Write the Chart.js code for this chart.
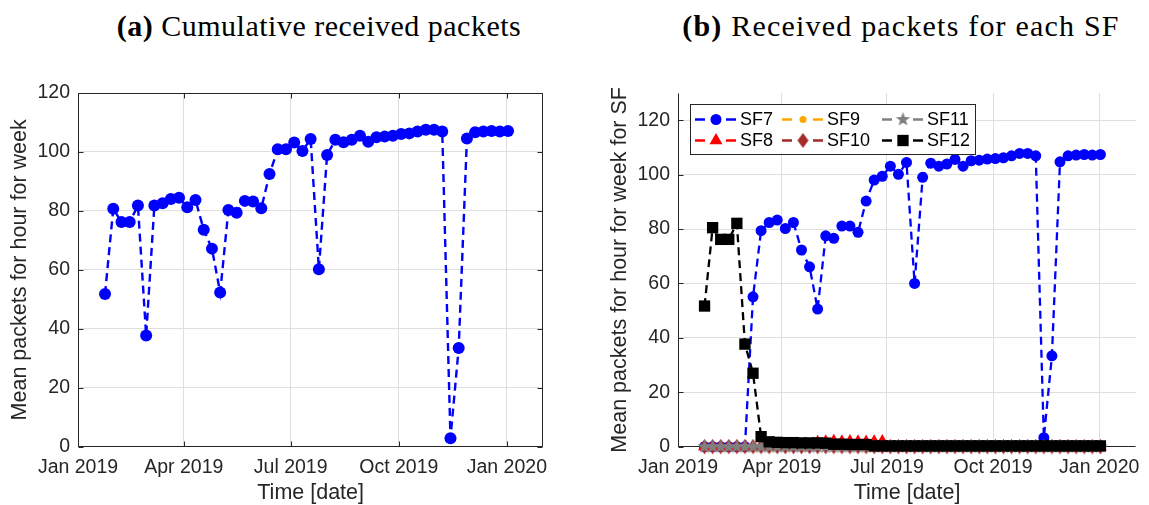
<!DOCTYPE html>
<html>
<head>
<meta charset="utf-8">
<script src="https://cdn.jsdelivr.net/npm/chart.js@4.4.1/dist/chart.umd.min.js"></script>
<style>
  body { margin: 0; background: #fff; width: 1149px; height: 505px; overflow: hidden; position: relative; }
  canvas { position: absolute; top: 0; }
  #chartA { left: 0; }
  #chartB { left: 575px; }
  .title { position: absolute; top: 9px; font-family: "Liberation Serif", "Times New Roman", serif; font-size: 30px; color: #000; white-space: nowrap; transform: translateX(-50%); }
</style>
</head>
<body>
<div class="title" style="left:319px; letter-spacing:0.5px"><b>(a)</b> Cumulative received packets</div>
<div class="title" style="left:901px; letter-spacing:1.2px"><b>(b)</b> Received packets for each SF</div>
<canvas id="chartA" width="575" height="505"></canvas>
<canvas id="chartB" width="574" height="505"></canvas>
<script>
  "use strict";

  // weekly sample dates
  const weeks = [
    "2019-01-24", "2019-01-31", "2019-02-07", "2019-02-14", "2019-02-21", "2019-02-28",
    "2019-03-07", "2019-03-14", "2019-03-21", "2019-03-28", "2019-04-04", "2019-04-11",
    "2019-04-18", "2019-04-25", "2019-05-02", "2019-05-09", "2019-05-16", "2019-05-23",
    "2019-05-30", "2019-06-06", "2019-06-13", "2019-06-20", "2019-06-27", "2019-07-04",
    "2019-07-11", "2019-07-18", "2019-07-25", "2019-08-01", "2019-08-08", "2019-08-15",
    "2019-08-22", "2019-08-29", "2019-09-05", "2019-09-12", "2019-09-19", "2019-09-26",
    "2019-10-03", "2019-10-10", "2019-10-17", "2019-10-24", "2019-10-31", "2019-11-07",
    "2019-11-14", "2019-11-21", "2019-11-28", "2019-12-05", "2019-12-12", "2019-12-19",
    "2019-12-26", "2020-01-02",
  ];

  // (a) cumulative
  const cumulative = [
    51.8, 80.7, 76.2, 76.2, 81.8, 37.7, 81.8, 82.6, 84.0, 84.5,
    81.2, 83.7, 73.6, 67.2, 52.3, 80.3, 79.4, 83.4, 83.2, 80.9,
    92.5, 100.9, 100.9, 103.2, 100.3, 104.4, 60.2, 99.0, 104.1, 103.3,
    104.1, 105.5, 103.5, 105.0, 105.2, 105.5, 106.1, 106.3, 106.9, 107.5,
    107.5, 106.9, 2.9, 33.5, 104.6, 106.7, 106.9, 107.1, 106.9, 107.1,
  ];

  // (b) per spreading factor
  const sf7 = [
    0, 0, 0, 0, 0, 0, 55.1, 79.4, 82.4, 83.3,
    80.2, 82.4, 72.3, 66.1, 50.6, 77.5, 76.6, 81.1, 81.1, 78.8,
    90.3, 98.0, 99.4, 103.1, 100.1, 104.5, 60.0, 99.0, 104.2, 103.1,
    103.9, 105.6, 103.1, 105.1, 105.3, 105.7, 105.9, 106.2, 106.9, 107.8,
    107.8, 106.9, 3.3, 33.4, 104.7, 106.9, 107.2, 107.4, 107.2, 107.4,
  ];
  const sf8 = [
    0, 0, 0, 0, 0, 0, 0, 0, 0, 0,
    0, 0, 0, 0, 1.6, 1.8, 2.0, 1.8, 1.9, 1.8,
    1.7, 1.8, 1.9, 0, 0, 0, 0, 0, 0, 0,
    0, 0, 0, 0, 0, 0, 0, 0, 0, 0,
    0, 0, 0, 0, 0, 0, 0, 0, 0, 0,
  ];
  const sf9 = [
    0, 0, 0, 0, 0, 0, 0, 0, 0, 0,
    0, 0, 0, 0, 0, 0, 0, 0, 0, 0,
    0, 0, 0, 0, 0, 0, 0, 0, 0, 0,
    0, 0, 0, 0, 0, 0, 0, 0, 0, 0,
    0, 0, 0, 0, 0, 0, 0, 0, 0, 0,
  ];
  const sf10 = [
    0, 0, 0, 0, 0, 0, 0, 0, 0, 0,
    0, 0, 0, 0, 0, 0, 0, 0, 0, 0,
    0, 0, 0, 0, 0, 0, 0, 0, 0, 0,
    0, 0, 0, 0, 0, 0, 0, 0, 0, 0,
    0, 0, 0, 0, 0, 0, 0, 0, 0, 0,
  ];
  const sf11 = [
    0, 0, 0, 0, 0, 0, 0, 0, 0, 0,
    0, 0, 0, 0, 0, 0, 0, 0, 0, 0,
    0, 0, 0, 0, 0, 0, 0, 0, 0, 0,
    0, 0, 0, 0, 0, 0, 0, 0, 0, 0,
    0, 0, 0, 0, 0, 0, 0, 0, 0, 0,
  ];
  const sf12 = [
    51.7, 80.5, 76.2, 76.2, 82.1, 37.7, 27.0, 3.7, 1.8, 1.6,
    1.5, 1.5, 1.4, 1.4, 1.4, 1.3, 0.9, 0.9, 0.8, 0.8,
    0.8, 0.3, 0.3, 0.3, 0.3, 0.3, 0.3, 0.3, 0.3, 0.3,
    0.3, 0.3, 0.3, 0.3, 0.3, 0.3, 0.3, 0.3, 0.3, 0.3,
    0.3, 0.3, 0.3, 0.3, 0.3, 0.3, 0.3, 0.3, 0.3, 0.3,
  ];

  const xTickDates = ["2019-01-01", "2019-04-01", "2019-07-01", "2019-10-01", "2020-01-01"];
  const xTickLabels = ["Jan 2019", "Apr 2019", "Jul 2019", "Oct 2019", "Jan 2020"];
  const yTicks = [0, 20, 40, 60, 80, 100, 120];

  const FONT = "'Liberation Sans', Arial, sans-serif";
  const AXIS = "#262626";

  function dayOf(s) {
    const p = s.split("-").map(Number);
    return (Date.UTC(p[0], p[1] - 1, p[2]) - Date.UTC(2019, 0, 1)) / 86400000;
  }
  const xTickDays = xTickDates.map(dayOf);

  function points(values) {
    return weeks.map((w, i) => ({ x: dayOf(w), y: values[i] }));
  }

  // marker images for shapes Chart.js lacks
  function makeStar(r, color) {
    const s = Math.ceil(2 * r + 2);
    const c = document.createElement("canvas");
    c.width = s; c.height = s;
    const g = c.getContext("2d");
    g.translate(s / 2, s / 2);
    g.beginPath();
    for (let i = 0; i < 10; i++) {
      const a = -Math.PI / 2 + (i * Math.PI) / 5;
      const rr = i % 2 ? r * 0.42 : r;
      g.lineTo(Math.cos(a) * rr, Math.sin(a) * rr);
    }
    g.closePath();
    g.fillStyle = color;
    g.fill();
    return c;
  }
  function makeDiamond(w, h, color) {
    const c = document.createElement("canvas");
    c.width = Math.ceil(w + 2); c.height = Math.ceil(h + 2);
    const g = c.getContext("2d");
    g.translate(c.width / 2, c.height / 2);
    g.beginPath();
    g.moveTo(0, -h / 2); g.lineTo(w / 2, 0); g.lineTo(0, h / 2); g.lineTo(-w / 2, 0);
    g.closePath();
    g.fillStyle = color;
    g.fill();
    return c;
  }

  const starImg = makeStar(7.5, "#808080");
  const diamondImg = makeDiamond(11, 15, "#a52a2a");

  // axis lines + inward tick marks (MATLAB look)
  const axesPlugin = {
    id: "axesBox",
    beforeDatasetsDraw(chart, args, opts) {
      const { ctx, chartArea: a, scales } = chart;
      const x = scales.x, y = scales.y;
      const L = Math.round(a.left) + 0.5, R = Math.round(a.right) - 0.5;
      const T = Math.round(a.top) + 0.5, B = Math.round(a.bottom) - 0.5;
      ctx.save();
      ctx.strokeStyle = AXIS;
      ctx.lineWidth = 1;
      ctx.beginPath();
      ctx.moveTo(L, T); ctx.lineTo(L, B); ctx.lineTo(R, B);
      if (opts.box) { ctx.lineTo(R, T); ctx.lineTo(L, T); }
      x.ticks.forEach((t) => {
        const px = Math.round(x.getPixelForValue(t.value)) + 0.5;
        ctx.moveTo(px, B); ctx.lineTo(px, B - 5);
        if (opts.box) { ctx.moveTo(px, T); ctx.lineTo(px, T + 5); }
      });
      y.ticks.forEach((t) => {
        const py = Math.round(y.getPixelForValue(t.value)) + 0.5;
        ctx.moveTo(L, py); ctx.lineTo(L + 5, py);
        if (opts.box) { ctx.moveTo(R, py); ctx.lineTo(R - 5, py); }
      });
      ctx.stroke();
      ctx.restore();
    },
  };

  function drawMarker(ctx, style, r, color, x, y) {
    ctx.fillStyle = color;
    ctx.beginPath();
    if (style === "circle") {
      ctx.arc(x, y, r, 0, Math.PI * 2);
    } else if (style === "triangle") {
      ctx.moveTo(x, y - r);
      ctx.lineTo(x + r * Math.sqrt(3) / 2, y + r / 2);
      ctx.lineTo(x - r * Math.sqrt(3) / 2, y + r / 2);
      ctx.closePath();
    } else if (style === "rect") {
      const s = r * Math.SQRT1_2;
      ctx.rect(x - s, y - s, 2 * s, 2 * s);
    } else {
      ctx.drawImage(style, x - style.width / 2, y - style.height / 2);
      return;
    }
    ctx.fill();
  }

  // legend for panel (b), 3 columns x 2 rows, column-major like MATLAB
  const legendPlugin = {
    id: "sfLegend",
    afterDatasetsDraw(chart) {
      const { ctx } = chart;
      const left = 115, top = 104, w = 285, h = 50;
      const rows = [119.5, 140.5];
      const cols = [141, 228, 328];
      ctx.save();
      ctx.fillStyle = "#fff";
      ctx.fillRect(left, top, w, h);
      ctx.strokeStyle = AXIS;
      ctx.lineWidth = 1;
      ctx.strokeRect(left + 0.5, top + 0.5, w, h);
      ctx.font = "18px " + FONT;
      ctx.textBaseline = "middle";
      chart.data.datasets.forEach((ds, i) => {
        const cx = cols[Math.floor(i / 2)];
        const cy = rows[i % 2];
        ctx.strokeStyle = ds.borderColor;
        ctx.lineWidth = 2.3;
        ctx.beginPath();
        ctx.moveTo(cx - 21, cy); ctx.lineTo(cx - 11, cy);
        ctx.moveTo(cx + 10, cy); ctx.lineTo(cx + 20, cy);
        ctx.stroke();
        drawMarker(ctx, ds.pointStyle, ds.pointRadius, ds.pointBackgroundColor, cx, cy);
        ctx.fillStyle = "#000";
        ctx.fillText(ds.label, cx + 24, cy + 1);
      });
      ctx.restore();
    },
  };

  function makeOptions(cfg) {
    return {
      responsive: false,
      animation: false,
      devicePixelRatio: 1,
      events: [],
      layout: { padding: { left: 0, right: cfg.rightPad, top: 93, bottom: 0 } },
      plugins: {
        legend: { display: false },
        tooltip: { enabled: false },
        axesBox: { box: cfg.box },
      },
      scales: {
        x: {
          type: "linear",
          min: 0,
          max: cfg.xMax,
          afterBuildTicks: (s) => { s.ticks = xTickDays.map((v) => ({ value: v })); },
          afterFit: (s) => { s.height = 505 - 446.7; },
          ticks: {
            padding: 9,
            color: AXIS,
            font: { family: FONT, size: 19.5 },
            maxRotation: 0,
            autoSkip: false,
            callback: (v) => xTickLabels[xTickDays.indexOf(v)],
          },
          grid: { color: "#dfdfdf", drawTicks: false },
          border: { display: false },
          title: {
            display: true,
            text: "Time [date]",
            color: AXIS,
            font: { family: FONT, size: 21.5, lineHeight: 1.1 },
            padding: { top: 0, bottom: 0 },
          },
        },
        y: {
          min: 0,
          max: cfg.yMax,
          afterBuildTicks: (s) => { s.ticks = yTicks.map((v) => ({ value: v })); },
          afterFit: (s) => { s.width = cfg.yWidth; },
          ticks: {
            padding: 8,
            color: AXIS,
            font: { family: FONT, size: 19.5 },
          },
          grid: { color: "#dfdfdf", drawTicks: false },
          border: { display: false },
          title: {
            display: true,
            text: cfg.yTitle,
            color: AXIS,
            font: { family: FONT, size: 21.5, lineHeight: 1.2 },
            padding: { top: cfg.yTitlePad, bottom: 0 },
          },
        },
      },
    };
  }

  const lineStyle = { borderWidth: 2.4, borderDash: [8, 5], pointBorderWidth: 0, clip: false, tension: 0 };

  new Chart(document.getElementById("chartA"), {
    type: "line",
    data: {
      datasets: [
        Object.assign({
          label: "Cumulative",
          data: points(cumulative),
          borderColor: "#0000ff",
          pointBackgroundColor: "#0000ff",
          pointStyle: "circle",
          pointRadius: 6,
        }, lineStyle),
      ],
    },
    options: makeOptions({
      xMax: dayOf("2020-02-01"), yMax: 120, yWidth: 78, rightPad: 31.7, box: true,
      yTitle: "Mean packets for hour for week", yTitlePad: 7,
    }),
    plugins: [axesPlugin],
  });

  // draw order: SF12 on top (order 0) ... SF7 at the bottom
  const sfSeries = [
    { label: "SF7", values: sf7, color: "#0000ff", style: "circle", r: 5.5 },
    { label: "SF8", values: sf8, color: "#ff0000", style: "triangle", r: 7.5 },
    { label: "SF9", values: sf9, color: "#ffa500", style: "circle", r: 3.5 },
    { label: "SF10", values: sf10, color: "#a52a2a", style: diamondImg, r: 7 },
    { label: "SF11", values: sf11, color: "#808080", style: starImg, r: 7.5 },
    { label: "SF12", values: sf12, color: "#000000", style: "rect", r: 8 },
  ];

  new Chart(document.getElementById("chartB"), {
    type: "line",
    data: {
      datasets: sfSeries.map((s, i) => Object.assign({
        label: s.label,
        data: points(s.values),
        borderColor: s.color,
        pointBackgroundColor: s.color,
        pointStyle: s.style,
        pointRadius: s.r,
        order: sfSeries.length - 1 - i,
      }, lineStyle, { borderWidth: 2.3 })),
    },
    options: makeOptions({
      xMax: dayOf("2020-02-02"), yMax: 130, yWidth: 103, rightPad: 4, box: false,
      yTitle: "Mean packets for hour for week for SF", yTitlePad: 32,
    }),
    plugins: [axesPlugin, legendPlugin],
  });
</script>
</body>
</html>
